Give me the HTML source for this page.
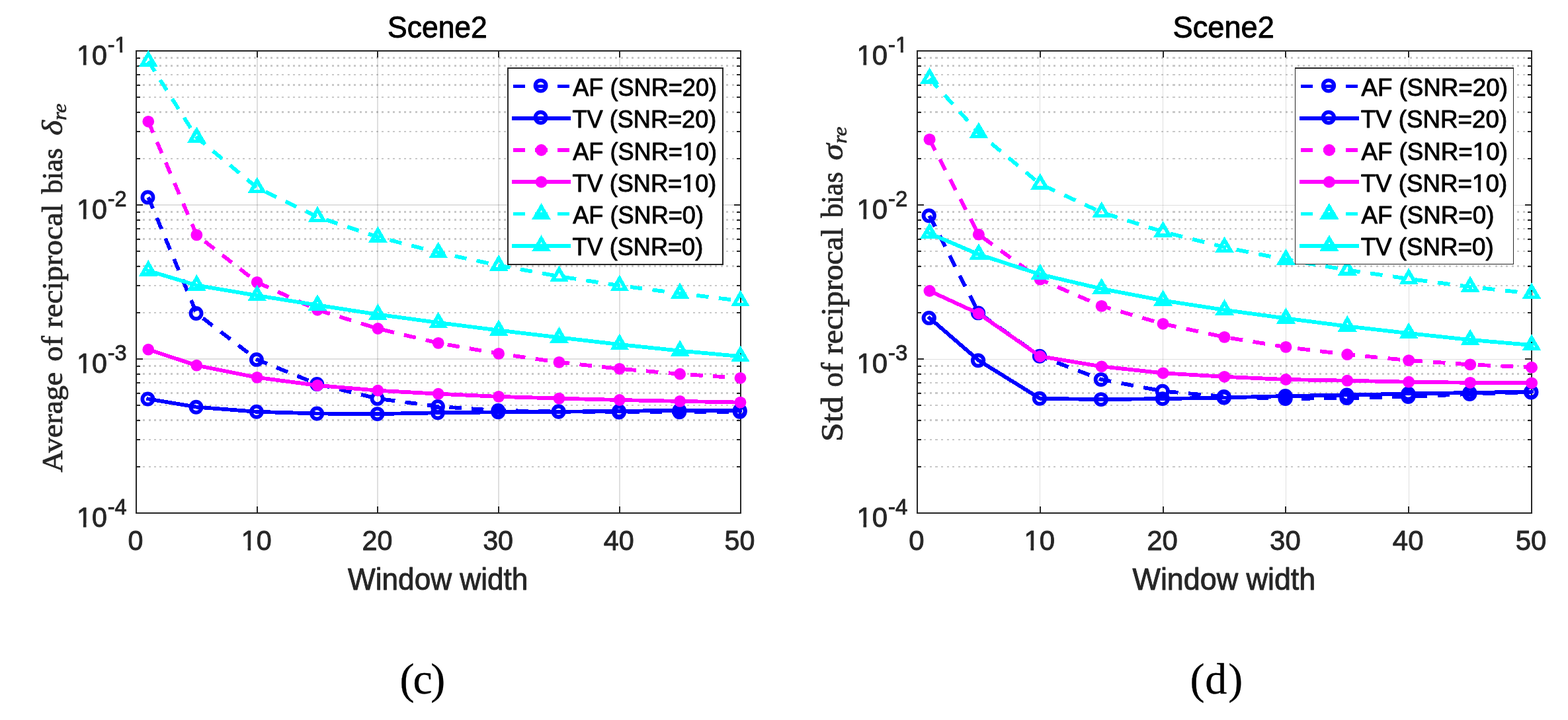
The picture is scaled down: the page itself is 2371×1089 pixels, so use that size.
<!DOCTYPE html>
<html lang="en">
<head>
<meta charset="utf-8">
<title>Scene2 reciprocal bias plots</title>
<style>
html,body{margin:0;padding:0;background:#fff;}
body{width:2371px;height:1089px;overflow:hidden;}
svg{display:block;}
</style>
</head>
<body>
<svg width="2371" height="1089" viewBox="0 0 2371 1089">
<rect width="2371" height="1089" fill="#fff"/>
<g id="plot-c">
<g stroke="#262626" stroke-opacity="0.25" stroke-width="2.6" stroke-dasharray="3 5 3 6 3 5 3 5 3 6" shape-rendering="crispEdges">
<line x1="208" y1="239.86" x2="1119.5" y2="239.86"/>
<line x1="208" y1="198.83" x2="1119.5" y2="198.83"/>
<line x1="208" y1="169.72" x2="1119.5" y2="169.72"/>
<line x1="208" y1="147.14" x2="1119.5" y2="147.14"/>
<line x1="208" y1="128.69" x2="1119.5" y2="128.69"/>
<line x1="208" y1="113.09" x2="1119.5" y2="113.09"/>
<line x1="208" y1="99.58" x2="1119.5" y2="99.58"/>
<line x1="208" y1="87.66" x2="1119.5" y2="87.66"/>
<line x1="208" y1="472.86" x2="1119.5" y2="472.86"/>
<line x1="208" y1="431.83" x2="1119.5" y2="431.83"/>
<line x1="208" y1="402.72" x2="1119.5" y2="402.72"/>
<line x1="208" y1="380.14" x2="1119.5" y2="380.14"/>
<line x1="208" y1="361.69" x2="1119.5" y2="361.69"/>
<line x1="208" y1="346.09" x2="1119.5" y2="346.09"/>
<line x1="208" y1="332.58" x2="1119.5" y2="332.58"/>
<line x1="208" y1="320.66" x2="1119.5" y2="320.66"/>
<line x1="208" y1="705.86" x2="1119.5" y2="705.86"/>
<line x1="208" y1="664.83" x2="1119.5" y2="664.83"/>
<line x1="208" y1="635.72" x2="1119.5" y2="635.72"/>
<line x1="208" y1="613.14" x2="1119.5" y2="613.14"/>
<line x1="208" y1="594.69" x2="1119.5" y2="594.69"/>
<line x1="208" y1="579.09" x2="1119.5" y2="579.09"/>
<line x1="208" y1="565.58" x2="1119.5" y2="565.58"/>
<line x1="208" y1="553.66" x2="1119.5" y2="553.66"/>
</g>
<g stroke="#262626" stroke-opacity="0.15" stroke-width="2.0" shape-rendering="crispEdges">
<line x1="388.7" y1="77" x2="388.7" y2="776"/>
<line x1="571.4" y1="77" x2="571.4" y2="776"/>
<line x1="754.1" y1="77" x2="754.1" y2="776"/>
<line x1="936.8" y1="77" x2="936.8" y2="776"/>
<line x1="206" y1="310" x2="1119.5" y2="310"/>
<line x1="206" y1="543" x2="1119.5" y2="543"/>
</g>
<g stroke="#262626" stroke-width="2" fill="none" shape-rendering="crispEdges">
<rect x="206" y="77" width="913.5" height="699"/>
<line x1="388.7" y1="776" x2="388.7" y2="766"/>
<line x1="388.7" y1="77" x2="388.7" y2="87"/>
<line x1="571.4" y1="776" x2="571.4" y2="766"/>
<line x1="571.4" y1="77" x2="571.4" y2="87"/>
<line x1="754.1" y1="776" x2="754.1" y2="766"/>
<line x1="754.1" y1="77" x2="754.1" y2="87"/>
<line x1="936.8" y1="776" x2="936.8" y2="766"/>
<line x1="936.8" y1="77" x2="936.8" y2="87"/>
<line x1="206" y1="310" x2="216" y2="310"/>
<line x1="1119.5" y1="310" x2="1109.5" y2="310"/>
<line x1="206" y1="543" x2="216" y2="543"/>
<line x1="1119.5" y1="543" x2="1109.5" y2="543"/>
<line x1="206" y1="239.86" x2="212" y2="239.86"/>
<line x1="1119.5" y1="239.86" x2="1113.5" y2="239.86"/>
<line x1="206" y1="198.83" x2="212" y2="198.83"/>
<line x1="1119.5" y1="198.83" x2="1113.5" y2="198.83"/>
<line x1="206" y1="169.72" x2="212" y2="169.72"/>
<line x1="1119.5" y1="169.72" x2="1113.5" y2="169.72"/>
<line x1="206" y1="147.14" x2="212" y2="147.14"/>
<line x1="1119.5" y1="147.14" x2="1113.5" y2="147.14"/>
<line x1="206" y1="128.69" x2="212" y2="128.69"/>
<line x1="1119.5" y1="128.69" x2="1113.5" y2="128.69"/>
<line x1="206" y1="113.09" x2="212" y2="113.09"/>
<line x1="1119.5" y1="113.09" x2="1113.5" y2="113.09"/>
<line x1="206" y1="99.58" x2="212" y2="99.58"/>
<line x1="1119.5" y1="99.58" x2="1113.5" y2="99.58"/>
<line x1="206" y1="87.66" x2="212" y2="87.66"/>
<line x1="1119.5" y1="87.66" x2="1113.5" y2="87.66"/>
<line x1="206" y1="472.86" x2="212" y2="472.86"/>
<line x1="1119.5" y1="472.86" x2="1113.5" y2="472.86"/>
<line x1="206" y1="431.83" x2="212" y2="431.83"/>
<line x1="1119.5" y1="431.83" x2="1113.5" y2="431.83"/>
<line x1="206" y1="402.72" x2="212" y2="402.72"/>
<line x1="1119.5" y1="402.72" x2="1113.5" y2="402.72"/>
<line x1="206" y1="380.14" x2="212" y2="380.14"/>
<line x1="1119.5" y1="380.14" x2="1113.5" y2="380.14"/>
<line x1="206" y1="361.69" x2="212" y2="361.69"/>
<line x1="1119.5" y1="361.69" x2="1113.5" y2="361.69"/>
<line x1="206" y1="346.09" x2="212" y2="346.09"/>
<line x1="1119.5" y1="346.09" x2="1113.5" y2="346.09"/>
<line x1="206" y1="332.58" x2="212" y2="332.58"/>
<line x1="1119.5" y1="332.58" x2="1113.5" y2="332.58"/>
<line x1="206" y1="320.66" x2="212" y2="320.66"/>
<line x1="1119.5" y1="320.66" x2="1113.5" y2="320.66"/>
<line x1="206" y1="705.86" x2="212" y2="705.86"/>
<line x1="1119.5" y1="705.86" x2="1113.5" y2="705.86"/>
<line x1="206" y1="664.83" x2="212" y2="664.83"/>
<line x1="1119.5" y1="664.83" x2="1113.5" y2="664.83"/>
<line x1="206" y1="635.72" x2="212" y2="635.72"/>
<line x1="1119.5" y1="635.72" x2="1113.5" y2="635.72"/>
<line x1="206" y1="613.14" x2="212" y2="613.14"/>
<line x1="1119.5" y1="613.14" x2="1113.5" y2="613.14"/>
<line x1="206" y1="594.69" x2="212" y2="594.69"/>
<line x1="1119.5" y1="594.69" x2="1113.5" y2="594.69"/>
<line x1="206" y1="579.09" x2="212" y2="579.09"/>
<line x1="1119.5" y1="579.09" x2="1113.5" y2="579.09"/>
<line x1="206" y1="565.58" x2="212" y2="565.58"/>
<line x1="1119.5" y1="565.58" x2="1113.5" y2="565.58"/>
<line x1="206" y1="553.66" x2="212" y2="553.66"/>
<line x1="1119.5" y1="553.66" x2="1113.5" y2="553.66"/>
</g>
<g fill="none" shape-rendering="crispEdges">
<polyline points="224.27,298.4 297.35,474 388.7,543.9 480.05,581 571.4,602.9 662.75,614.9 754.1,621 845.45,622.3 936.8,623.5 1028.15,623.3 1119.5,622.8" stroke="#0000ff" stroke-width="5.8" stroke-linejoin="round" stroke-dasharray="18.4 15.3"/>
<circle cx="223.47" cy="298.4" r="8.1" fill="none" stroke="#0000ff" stroke-width="5.7" shape-rendering="geometricPrecision"/>
<circle cx="296.55" cy="474" r="8.1" fill="none" stroke="#0000ff" stroke-width="5.7" shape-rendering="geometricPrecision"/>
<circle cx="387.9" cy="543.9" r="8.1" fill="none" stroke="#0000ff" stroke-width="5.7" shape-rendering="geometricPrecision"/>
<circle cx="479.25" cy="581" r="8.1" fill="none" stroke="#0000ff" stroke-width="5.7" shape-rendering="geometricPrecision"/>
<circle cx="570.6" cy="602.9" r="8.1" fill="none" stroke="#0000ff" stroke-width="5.7" shape-rendering="geometricPrecision"/>
<circle cx="661.95" cy="614.9" r="8.1" fill="none" stroke="#0000ff" stroke-width="5.7" shape-rendering="geometricPrecision"/>
<circle cx="753.3" cy="621" r="8.1" fill="none" stroke="#0000ff" stroke-width="5.7" shape-rendering="geometricPrecision"/>
<circle cx="844.65" cy="622.3" r="8.1" fill="none" stroke="#0000ff" stroke-width="5.7" shape-rendering="geometricPrecision"/>
<circle cx="936" cy="623.5" r="8.1" fill="none" stroke="#0000ff" stroke-width="5.7" shape-rendering="geometricPrecision"/>
<circle cx="1027.35" cy="623.3" r="8.1" fill="none" stroke="#0000ff" stroke-width="5.7" shape-rendering="geometricPrecision"/>
<circle cx="1118.7" cy="622.8" r="8.1" fill="none" stroke="#0000ff" stroke-width="5.7" shape-rendering="geometricPrecision"/>
<polyline points="224.27,603.5 297.35,615.7 388.7,622.8 480.05,625.5 571.4,626.1 662.75,624.3 754.1,623.3 845.45,622.8 936.8,621.8 1028.15,620.8 1119.5,620.8" stroke="#0000ff" stroke-width="5.8" stroke-linejoin="round" stroke-linecap="square"/>
<circle cx="223.47" cy="603.5" r="8.1" fill="none" stroke="#0000ff" stroke-width="5.7" shape-rendering="geometricPrecision"/>
<circle cx="296.55" cy="615.7" r="8.1" fill="none" stroke="#0000ff" stroke-width="5.7" shape-rendering="geometricPrecision"/>
<circle cx="387.9" cy="622.8" r="8.1" fill="none" stroke="#0000ff" stroke-width="5.7" shape-rendering="geometricPrecision"/>
<circle cx="479.25" cy="625.5" r="8.1" fill="none" stroke="#0000ff" stroke-width="5.7" shape-rendering="geometricPrecision"/>
<circle cx="570.6" cy="626.1" r="8.1" fill="none" stroke="#0000ff" stroke-width="5.7" shape-rendering="geometricPrecision"/>
<circle cx="661.95" cy="624.3" r="8.1" fill="none" stroke="#0000ff" stroke-width="5.7" shape-rendering="geometricPrecision"/>
<circle cx="753.3" cy="623.3" r="8.1" fill="none" stroke="#0000ff" stroke-width="5.7" shape-rendering="geometricPrecision"/>
<circle cx="844.65" cy="622.8" r="8.1" fill="none" stroke="#0000ff" stroke-width="5.7" shape-rendering="geometricPrecision"/>
<circle cx="936" cy="621.8" r="8.1" fill="none" stroke="#0000ff" stroke-width="5.7" shape-rendering="geometricPrecision"/>
<circle cx="1027.35" cy="620.8" r="8.1" fill="none" stroke="#0000ff" stroke-width="5.7" shape-rendering="geometricPrecision"/>
<circle cx="1118.7" cy="620.8" r="8.1" fill="none" stroke="#0000ff" stroke-width="5.7" shape-rendering="geometricPrecision"/>
<polyline points="224.27,183.8 297.35,355.4 388.7,426.9 480.05,468.8 571.4,497 662.75,518.9 754.1,534.9 845.45,547.9 936.8,557.8 1028.15,565.7 1119.5,571.8" stroke="#ff00ff" stroke-width="5.8" stroke-linejoin="round" stroke-dasharray="18.4 15.3"/>
<circle cx="224.27" cy="183.8" r="8.9" fill="#ff00ff" shape-rendering="geometricPrecision"/>
<circle cx="297.35" cy="355.4" r="8.9" fill="#ff00ff" shape-rendering="geometricPrecision"/>
<circle cx="388.7" cy="426.9" r="8.9" fill="#ff00ff" shape-rendering="geometricPrecision"/>
<circle cx="480.05" cy="468.8" r="8.9" fill="#ff00ff" shape-rendering="geometricPrecision"/>
<circle cx="571.4" cy="497" r="8.9" fill="#ff00ff" shape-rendering="geometricPrecision"/>
<circle cx="662.75" cy="518.9" r="8.9" fill="#ff00ff" shape-rendering="geometricPrecision"/>
<circle cx="754.1" cy="534.9" r="8.9" fill="#ff00ff" shape-rendering="geometricPrecision"/>
<circle cx="845.45" cy="547.9" r="8.9" fill="#ff00ff" shape-rendering="geometricPrecision"/>
<circle cx="936.8" cy="557.8" r="8.9" fill="#ff00ff" shape-rendering="geometricPrecision"/>
<circle cx="1028.15" cy="565.7" r="8.9" fill="#ff00ff" shape-rendering="geometricPrecision"/>
<circle cx="1119.5" cy="571.8" r="8.9" fill="#ff00ff" shape-rendering="geometricPrecision"/>
<polyline points="224.27,528.7 297.35,552.7 388.7,570.9 480.05,582.9 571.4,590.7 662.75,595.7 754.1,599.9 845.45,602.6 936.8,605 1028.15,606.9 1119.5,608.6" stroke="#ff00ff" stroke-width="5.8" stroke-linejoin="round" stroke-linecap="square"/>
<circle cx="224.27" cy="528.7" r="8.9" fill="#ff00ff" shape-rendering="geometricPrecision"/>
<circle cx="297.35" cy="552.7" r="8.9" fill="#ff00ff" shape-rendering="geometricPrecision"/>
<circle cx="388.7" cy="570.9" r="8.9" fill="#ff00ff" shape-rendering="geometricPrecision"/>
<circle cx="480.05" cy="582.9" r="8.9" fill="#ff00ff" shape-rendering="geometricPrecision"/>
<circle cx="571.4" cy="590.7" r="8.9" fill="#ff00ff" shape-rendering="geometricPrecision"/>
<circle cx="662.75" cy="595.7" r="8.9" fill="#ff00ff" shape-rendering="geometricPrecision"/>
<circle cx="754.1" cy="599.9" r="8.9" fill="#ff00ff" shape-rendering="geometricPrecision"/>
<circle cx="845.45" cy="602.6" r="8.9" fill="#ff00ff" shape-rendering="geometricPrecision"/>
<circle cx="936.8" cy="605" r="8.9" fill="#ff00ff" shape-rendering="geometricPrecision"/>
<circle cx="1028.15" cy="606.9" r="8.9" fill="#ff00ff" shape-rendering="geometricPrecision"/>
<circle cx="1119.5" cy="608.6" r="8.9" fill="#ff00ff" shape-rendering="geometricPrecision"/>
<polyline points="224.27,92.5 297.35,207.9 388.7,284 480.05,328 571.4,358.5 662.75,382 754.1,401.5 845.45,418 936.8,432 1028.15,443.8 1119.5,455" stroke="#00ffff" stroke-width="5.8" stroke-linejoin="round" stroke-dasharray="18.4 15.3"/>
<polygon points="224.27,81.5 233.8,98 214.74,98" fill="none" stroke="#00ffff" stroke-width="5.5" stroke-linejoin="miter" stroke-miterlimit="10"/>
<polygon points="297.35,196.9 306.88,213.4 287.82,213.4" fill="none" stroke="#00ffff" stroke-width="5.5" stroke-linejoin="miter" stroke-miterlimit="10"/>
<polygon points="388.7,273 398.23,289.5 379.17,289.5" fill="none" stroke="#00ffff" stroke-width="5.5" stroke-linejoin="miter" stroke-miterlimit="10"/>
<polygon points="480.05,317 489.58,333.5 470.52,333.5" fill="none" stroke="#00ffff" stroke-width="5.5" stroke-linejoin="miter" stroke-miterlimit="10"/>
<polygon points="571.4,347.5 580.93,364 561.87,364" fill="none" stroke="#00ffff" stroke-width="5.5" stroke-linejoin="miter" stroke-miterlimit="10"/>
<polygon points="662.75,371 672.28,387.5 653.22,387.5" fill="none" stroke="#00ffff" stroke-width="5.5" stroke-linejoin="miter" stroke-miterlimit="10"/>
<polygon points="754.1,390.5 763.63,407 744.57,407" fill="none" stroke="#00ffff" stroke-width="5.5" stroke-linejoin="miter" stroke-miterlimit="10"/>
<polygon points="845.45,407 854.98,423.5 835.92,423.5" fill="none" stroke="#00ffff" stroke-width="5.5" stroke-linejoin="miter" stroke-miterlimit="10"/>
<polygon points="936.8,421 946.33,437.5 927.27,437.5" fill="none" stroke="#00ffff" stroke-width="5.5" stroke-linejoin="miter" stroke-miterlimit="10"/>
<polygon points="1028.15,432.8 1037.68,449.3 1018.62,449.3" fill="none" stroke="#00ffff" stroke-width="5.5" stroke-linejoin="miter" stroke-miterlimit="10"/>
<polygon points="1119.5,444 1129.03,460.5 1109.97,460.5" fill="none" stroke="#00ffff" stroke-width="5.5" stroke-linejoin="miter" stroke-miterlimit="10"/>
<polyline points="224.27,409.5 297.35,431.5 388.7,447 480.05,461.5 571.4,475.6 662.75,488 754.1,499.6 845.45,510.4 936.8,521 1028.15,530.6 1119.5,539" stroke="#00ffff" stroke-width="5.8" stroke-linejoin="round" stroke-linecap="square"/>
<polygon points="224.27,398.5 233.8,415 214.74,415" fill="none" stroke="#00ffff" stroke-width="5.5" stroke-linejoin="miter" stroke-miterlimit="10"/>
<polygon points="297.35,420.5 306.88,437 287.82,437" fill="none" stroke="#00ffff" stroke-width="5.5" stroke-linejoin="miter" stroke-miterlimit="10"/>
<polygon points="388.7,436 398.23,452.5 379.17,452.5" fill="none" stroke="#00ffff" stroke-width="5.5" stroke-linejoin="miter" stroke-miterlimit="10"/>
<polygon points="480.05,450.5 489.58,467 470.52,467" fill="none" stroke="#00ffff" stroke-width="5.5" stroke-linejoin="miter" stroke-miterlimit="10"/>
<polygon points="571.4,464.6 580.93,481.1 561.87,481.1" fill="none" stroke="#00ffff" stroke-width="5.5" stroke-linejoin="miter" stroke-miterlimit="10"/>
<polygon points="662.75,477 672.28,493.5 653.22,493.5" fill="none" stroke="#00ffff" stroke-width="5.5" stroke-linejoin="miter" stroke-miterlimit="10"/>
<polygon points="754.1,488.6 763.63,505.1 744.57,505.1" fill="none" stroke="#00ffff" stroke-width="5.5" stroke-linejoin="miter" stroke-miterlimit="10"/>
<polygon points="845.45,499.4 854.98,515.9 835.92,515.9" fill="none" stroke="#00ffff" stroke-width="5.5" stroke-linejoin="miter" stroke-miterlimit="10"/>
<polygon points="936.8,510 946.33,526.5 927.27,526.5" fill="none" stroke="#00ffff" stroke-width="5.5" stroke-linejoin="miter" stroke-miterlimit="10"/>
<polygon points="1028.15,519.6 1037.68,536.1 1018.62,536.1" fill="none" stroke="#00ffff" stroke-width="5.5" stroke-linejoin="miter" stroke-miterlimit="10"/>
<polygon points="1119.5,528 1129.03,544.5 1109.97,544.5" fill="none" stroke="#00ffff" stroke-width="5.5" stroke-linejoin="miter" stroke-miterlimit="10"/>
</g>
<rect x="768" y="103" width="324.5" height="296.7" fill="#fff" stroke="#262626" stroke-width="2.0" shape-rendering="crispEdges"/>
<g fill="none" shape-rendering="crispEdges">
<line x1="775.9" y1="130.5" x2="863.2" y2="130.5" stroke="#0000ff" stroke-width="5.8" stroke-dasharray="18.2 15.3"/>
<circle cx="817.6" cy="129.6" r="8.1" fill="none" stroke="#0000ff" stroke-width="5.7" shape-rendering="geometricPrecision"/>
<line x1="774" y1="178.7" x2="863.2" y2="178.7" stroke="#0000ff" stroke-width="5.8"/>
<circle cx="817.6" cy="177.8" r="8.1" fill="none" stroke="#0000ff" stroke-width="5.7" shape-rendering="geometricPrecision"/>
<line x1="775.9" y1="227" x2="863.2" y2="227" stroke="#ff00ff" stroke-width="5.8" stroke-dasharray="18.2 15.3"/>
<circle cx="818.5" cy="227" r="8.9" fill="#ff00ff" shape-rendering="geometricPrecision"/>
<line x1="774" y1="275.2" x2="863.2" y2="275.2" stroke="#ff00ff" stroke-width="5.8"/>
<circle cx="818.5" cy="275.2" r="8.9" fill="#ff00ff" shape-rendering="geometricPrecision"/>
<line x1="775.9" y1="323.5" x2="863.2" y2="323.5" stroke="#00ffff" stroke-width="5.8" stroke-dasharray="18.2 15.3"/>
<polygon points="818.5,312.5 828.03,329 808.97,329" fill="none" stroke="#00ffff" stroke-width="5.5" stroke-linejoin="miter" stroke-miterlimit="10"/>
<line x1="774" y1="371.7" x2="863.2" y2="371.7" stroke="#00ffff" stroke-width="5.8"/>
<polygon points="818.5,360.7 828.03,377.2 808.97,377.2" fill="none" stroke="#00ffff" stroke-width="5.5" stroke-linejoin="miter" stroke-miterlimit="10"/>
</g>
<text transform="translate(866.23 145) scale(1.0039 1.04)" font-family="'Liberation Sans', Arial, Helvetica, sans-serif" font-size="36" fill="#000" stroke="#000" stroke-width="0.9" stroke-linejoin="round">AF (SNR=20)</text>
<text transform="translate(865.49 193.2) scale(1.0039 1.04)" font-family="'Liberation Sans', Arial, Helvetica, sans-serif" font-size="36" fill="#000" stroke="#000" stroke-width="0.9" stroke-linejoin="round">TV (SNR=20)</text>
<clipPath id="k1"><path clip-rule="evenodd" d="M-600 -100H600V60H-600ZM165.32 -4.35H173.62V3.45H165.32ZM177.72 -4.35H185.33V3.45H177.72Z"/></clipPath><text transform="translate(866.23 241.5) scale(1.0039 1.04)" font-family="'Liberation Sans', Arial, Helvetica, sans-serif" font-size="36" fill="#000" stroke="#000" stroke-width="0.9" stroke-linejoin="round" clip-path="url(#k1)">AF (SNR=10)</text>
<clipPath id="k2"><path clip-rule="evenodd" d="M-600 -100H600V60H-600ZM165.32 -4.35H173.62V3.45H165.32ZM177.72 -4.35H185.33V3.45H177.72Z"/></clipPath><text transform="translate(865.49 289.7) scale(1.0039 1.04)" font-family="'Liberation Sans', Arial, Helvetica, sans-serif" font-size="36" fill="#000" stroke="#000" stroke-width="0.9" stroke-linejoin="round" clip-path="url(#k2)">TV (SNR=10)</text>
<text transform="translate(866.23 338) scale(1.0039 1.04)" font-family="'Liberation Sans', Arial, Helvetica, sans-serif" font-size="36" fill="#000" stroke="#000" stroke-width="0.9" stroke-linejoin="round">AF (SNR=0)</text>
<text transform="translate(865.49 386.2) scale(1.0039 1.04)" font-family="'Liberation Sans', Arial, Helvetica, sans-serif" font-size="36" fill="#000" stroke="#000" stroke-width="0.9" stroke-linejoin="round">TV (SNR=0)</text>
<text transform="translate(586.08 57.4) scale(1.0056 1.04)" font-family="'Liberation Sans', Arial, Helvetica, sans-serif" font-size="44.2" fill="#000" stroke="#000" stroke-width="0.9" stroke-linejoin="round">Scene2</text>
<text transform="translate(526.11 892) scale(0.9985 1.04)" font-family="'Liberation Sans', Arial, Helvetica, sans-serif" font-size="44.2" fill="#262626" stroke="#262626" stroke-width="0.9" stroke-linejoin="round">Window width</text>
<text transform="translate(205 832) scale(1.0 1.04)" font-family="'Liberation Sans', Arial, Helvetica, sans-serif" font-size="41.3" text-anchor="middle" fill="#262626" stroke="#262626" stroke-width="0.9" stroke-linejoin="round">0</text>
<clipPath id="k3"><path clip-rule="evenodd" d="M-600 -100H600V60H-600ZM-22.28 -4.75H-13.05V3.45H-22.28ZM-8.48 -4.75H0.02V3.45H-8.48Z"/></clipPath><text transform="translate(387.7 832) scale(1.0 1.04)" font-family="'Liberation Sans', Arial, Helvetica, sans-serif" font-size="41.3" text-anchor="middle" fill="#262626" stroke="#262626" stroke-width="0.9" stroke-linejoin="round" clip-path="url(#k3)">10</text>
<text transform="translate(570.4 832) scale(1.0 1.04)" font-family="'Liberation Sans', Arial, Helvetica, sans-serif" font-size="41.3" text-anchor="middle" fill="#262626" stroke="#262626" stroke-width="0.9" stroke-linejoin="round">20</text>
<text transform="translate(753.1 832) scale(1.0 1.04)" font-family="'Liberation Sans', Arial, Helvetica, sans-serif" font-size="41.3" text-anchor="middle" fill="#262626" stroke="#262626" stroke-width="0.9" stroke-linejoin="round">30</text>
<text transform="translate(935.8 832) scale(1.0 1.04)" font-family="'Liberation Sans', Arial, Helvetica, sans-serif" font-size="41.3" text-anchor="middle" fill="#262626" stroke="#262626" stroke-width="0.9" stroke-linejoin="round">40</text>
<text transform="translate(1118.5 832) scale(1.0 1.04)" font-family="'Liberation Sans', Arial, Helvetica, sans-serif" font-size="41.3" text-anchor="middle" fill="#262626" stroke="#262626" stroke-width="0.9" stroke-linejoin="round">50</text>
<clipPath id="k4"><path clip-rule="evenodd" d="M-600 -100H600V60H-600ZM-45.25 -4.75H-36.02V3.45H-45.25ZM-31.45 -4.75H-22.95V3.45H-31.45Z"/></clipPath><text transform="translate(161.91 98) scale(1.0 1.04)" font-family="'Liberation Sans', Arial, Helvetica, sans-serif" font-size="41.3" text-anchor="end" fill="#262626" stroke="#262626" stroke-width="0.9" stroke-linejoin="round" clip-path="url(#k4)">10</text>
<clipPath id="k5"><path clip-rule="evenodd" d="M-600 -100H600V60H-600ZM10.84 -4.09H18.53V3.45H10.84ZM22.32 -4.09H29.35V3.45H22.32Z"/></clipPath><text transform="translate(162.77 78.8) scale(1.0 1.04)" font-family="'Liberation Sans', Arial, Helvetica, sans-serif" font-size="32.5" text-anchor="start" fill="#262626" stroke="#262626" stroke-width="0.9" stroke-linejoin="round" clip-path="url(#k5)">-1</text>
<clipPath id="k6"><path clip-rule="evenodd" d="M-600 -100H600V60H-600ZM-45.25 -4.75H-36.02V3.45H-45.25ZM-31.45 -4.75H-22.95V3.45H-31.45Z"/></clipPath><text transform="translate(161.91 331) scale(1.0 1.04)" font-family="'Liberation Sans', Arial, Helvetica, sans-serif" font-size="41.3" text-anchor="end" fill="#262626" stroke="#262626" stroke-width="0.9" stroke-linejoin="round" clip-path="url(#k6)">10</text>
<text transform="translate(162.77 311.8) scale(1.0 1.04)" font-family="'Liberation Sans', Arial, Helvetica, sans-serif" font-size="32.5" text-anchor="start" fill="#262626" stroke="#262626" stroke-width="0.9" stroke-linejoin="round">-2</text>
<clipPath id="k7"><path clip-rule="evenodd" d="M-600 -100H600V60H-600ZM-45.25 -4.75H-36.02V3.45H-45.25ZM-31.45 -4.75H-22.95V3.45H-31.45Z"/></clipPath><text transform="translate(161.91 564) scale(1.0 1.04)" font-family="'Liberation Sans', Arial, Helvetica, sans-serif" font-size="41.3" text-anchor="end" fill="#262626" stroke="#262626" stroke-width="0.9" stroke-linejoin="round" clip-path="url(#k7)">10</text>
<text transform="translate(162.77 544.8) scale(1.0 1.04)" font-family="'Liberation Sans', Arial, Helvetica, sans-serif" font-size="32.5" text-anchor="start" fill="#262626" stroke="#262626" stroke-width="0.9" stroke-linejoin="round">-3</text>
<clipPath id="k8"><path clip-rule="evenodd" d="M-600 -100H600V60H-600ZM-45.25 -4.75H-36.02V3.45H-45.25ZM-31.45 -4.75H-22.95V3.45H-31.45Z"/></clipPath><text transform="translate(161.91 797) scale(1.0 1.04)" font-family="'Liberation Sans', Arial, Helvetica, sans-serif" font-size="41.3" text-anchor="end" fill="#262626" stroke="#262626" stroke-width="0.9" stroke-linejoin="round" clip-path="url(#k8)">10</text>
<text transform="translate(162.77 777.8) scale(1.0 1.04)" font-family="'Liberation Sans', Arial, Helvetica, sans-serif" font-size="32.5" text-anchor="start" fill="#262626" stroke="#262626" stroke-width="0.9" stroke-linejoin="round">-4</text>
<text transform="translate(93.8 0) rotate(-90) translate(-714.45 0) scale(1.0173 1.0)" font-family="'Liberation Serif', 'Times New Roman', Times, serif" font-size="45" fill="#262626" stroke="#262626" stroke-width="0.8" stroke-linejoin="round">Average</text>
<text transform="translate(93.8 0) rotate(-90) translate(-546.76 0) scale(1.0288 1.0)" font-family="'Liberation Serif', 'Times New Roman', Times, serif" font-size="45" fill="#262626" stroke="#262626" stroke-width="0.8" stroke-linejoin="round">of</text>
<text transform="translate(93.8 0) rotate(-90) translate(-495.94 0) scale(1.0429 1.0)" font-family="'Liberation Serif', 'Times New Roman', Times, serif" font-size="45" fill="#262626" stroke="#262626" stroke-width="0.8" stroke-linejoin="round">reciprocal</text>
<text transform="translate(93.8 0) rotate(-90) translate(-293.1 0) scale(0.9540 1.0)" font-family="'Liberation Serif', 'Times New Roman', Times, serif" font-size="45" fill="#262626" stroke="#262626" stroke-width="0.8" stroke-linejoin="round">bias</text>
<text transform="translate(93.8 0) rotate(-90) translate(-204.94 0) scale(1.0944 1.0)" font-family="'Liberation Serif', 'Times New Roman', Times, serif" font-size="45" font-style="italic" fill="#262626" stroke="#262626" stroke-width="0.8" stroke-linejoin="round">δ</text>
<text transform="translate(93.8 0) rotate(-90) translate(-181.89 6) scale(1.1016 1.0)" font-family="'Liberation Serif', 'Times New Roman', Times, serif" font-size="29" font-style="italic" fill="#262626" stroke="#262626" stroke-width="0.7" stroke-linejoin="round">re</text>
</g>
<g id="plot-d" transform="matrix(1.01697 0 0 1 1177.505 0)">
<g stroke="#262626" stroke-opacity="0.25" stroke-width="2.6" stroke-dasharray="3 5 3 6 3 5 3 5 3 6" shape-rendering="crispEdges">
<line x1="208" y1="239.86" x2="1119.5" y2="239.86"/>
<line x1="208" y1="198.83" x2="1119.5" y2="198.83"/>
<line x1="208" y1="169.72" x2="1119.5" y2="169.72"/>
<line x1="208" y1="147.14" x2="1119.5" y2="147.14"/>
<line x1="208" y1="128.69" x2="1119.5" y2="128.69"/>
<line x1="208" y1="113.09" x2="1119.5" y2="113.09"/>
<line x1="208" y1="99.58" x2="1119.5" y2="99.58"/>
<line x1="208" y1="87.66" x2="1119.5" y2="87.66"/>
<line x1="208" y1="472.86" x2="1119.5" y2="472.86"/>
<line x1="208" y1="431.83" x2="1119.5" y2="431.83"/>
<line x1="208" y1="402.72" x2="1119.5" y2="402.72"/>
<line x1="208" y1="380.14" x2="1119.5" y2="380.14"/>
<line x1="208" y1="361.69" x2="1119.5" y2="361.69"/>
<line x1="208" y1="346.09" x2="1119.5" y2="346.09"/>
<line x1="208" y1="332.58" x2="1119.5" y2="332.58"/>
<line x1="208" y1="320.66" x2="1119.5" y2="320.66"/>
<line x1="208" y1="705.86" x2="1119.5" y2="705.86"/>
<line x1="208" y1="664.83" x2="1119.5" y2="664.83"/>
<line x1="208" y1="635.72" x2="1119.5" y2="635.72"/>
<line x1="208" y1="613.14" x2="1119.5" y2="613.14"/>
<line x1="208" y1="594.69" x2="1119.5" y2="594.69"/>
<line x1="208" y1="579.09" x2="1119.5" y2="579.09"/>
<line x1="208" y1="565.58" x2="1119.5" y2="565.58"/>
<line x1="208" y1="553.66" x2="1119.5" y2="553.66"/>
</g>
<g stroke="#262626" stroke-opacity="0.15" stroke-width="1.0" shape-rendering="crispEdges">
<line x1="388.7" y1="77" x2="388.7" y2="776"/>
<line x1="571.4" y1="77" x2="571.4" y2="776"/>
<line x1="754.1" y1="77" x2="754.1" y2="776"/>
<line x1="936.8" y1="77" x2="936.8" y2="776"/>
<line x1="206" y1="310" x2="1119.5" y2="310"/>
<line x1="206" y1="543" x2="1119.5" y2="543"/>
</g>
<g stroke="#262626" stroke-width="2" fill="none" shape-rendering="crispEdges">
<rect x="206" y="77" width="913.5" height="699"/>
<line x1="388.7" y1="776" x2="388.7" y2="766"/>
<line x1="388.7" y1="77" x2="388.7" y2="87"/>
<line x1="571.4" y1="776" x2="571.4" y2="766"/>
<line x1="571.4" y1="77" x2="571.4" y2="87"/>
<line x1="754.1" y1="776" x2="754.1" y2="766"/>
<line x1="754.1" y1="77" x2="754.1" y2="87"/>
<line x1="936.8" y1="776" x2="936.8" y2="766"/>
<line x1="936.8" y1="77" x2="936.8" y2="87"/>
<line x1="206" y1="310" x2="216" y2="310"/>
<line x1="1119.5" y1="310" x2="1109.5" y2="310"/>
<line x1="206" y1="543" x2="216" y2="543"/>
<line x1="1119.5" y1="543" x2="1109.5" y2="543"/>
<line x1="206" y1="239.86" x2="212" y2="239.86"/>
<line x1="1119.5" y1="239.86" x2="1113.5" y2="239.86"/>
<line x1="206" y1="198.83" x2="212" y2="198.83"/>
<line x1="1119.5" y1="198.83" x2="1113.5" y2="198.83"/>
<line x1="206" y1="169.72" x2="212" y2="169.72"/>
<line x1="1119.5" y1="169.72" x2="1113.5" y2="169.72"/>
<line x1="206" y1="147.14" x2="212" y2="147.14"/>
<line x1="1119.5" y1="147.14" x2="1113.5" y2="147.14"/>
<line x1="206" y1="128.69" x2="212" y2="128.69"/>
<line x1="1119.5" y1="128.69" x2="1113.5" y2="128.69"/>
<line x1="206" y1="113.09" x2="212" y2="113.09"/>
<line x1="1119.5" y1="113.09" x2="1113.5" y2="113.09"/>
<line x1="206" y1="99.58" x2="212" y2="99.58"/>
<line x1="1119.5" y1="99.58" x2="1113.5" y2="99.58"/>
<line x1="206" y1="87.66" x2="212" y2="87.66"/>
<line x1="1119.5" y1="87.66" x2="1113.5" y2="87.66"/>
<line x1="206" y1="472.86" x2="212" y2="472.86"/>
<line x1="1119.5" y1="472.86" x2="1113.5" y2="472.86"/>
<line x1="206" y1="431.83" x2="212" y2="431.83"/>
<line x1="1119.5" y1="431.83" x2="1113.5" y2="431.83"/>
<line x1="206" y1="402.72" x2="212" y2="402.72"/>
<line x1="1119.5" y1="402.72" x2="1113.5" y2="402.72"/>
<line x1="206" y1="380.14" x2="212" y2="380.14"/>
<line x1="1119.5" y1="380.14" x2="1113.5" y2="380.14"/>
<line x1="206" y1="361.69" x2="212" y2="361.69"/>
<line x1="1119.5" y1="361.69" x2="1113.5" y2="361.69"/>
<line x1="206" y1="346.09" x2="212" y2="346.09"/>
<line x1="1119.5" y1="346.09" x2="1113.5" y2="346.09"/>
<line x1="206" y1="332.58" x2="212" y2="332.58"/>
<line x1="1119.5" y1="332.58" x2="1113.5" y2="332.58"/>
<line x1="206" y1="320.66" x2="212" y2="320.66"/>
<line x1="1119.5" y1="320.66" x2="1113.5" y2="320.66"/>
<line x1="206" y1="705.86" x2="212" y2="705.86"/>
<line x1="1119.5" y1="705.86" x2="1113.5" y2="705.86"/>
<line x1="206" y1="664.83" x2="212" y2="664.83"/>
<line x1="1119.5" y1="664.83" x2="1113.5" y2="664.83"/>
<line x1="206" y1="635.72" x2="212" y2="635.72"/>
<line x1="1119.5" y1="635.72" x2="1113.5" y2="635.72"/>
<line x1="206" y1="613.14" x2="212" y2="613.14"/>
<line x1="1119.5" y1="613.14" x2="1113.5" y2="613.14"/>
<line x1="206" y1="594.69" x2="212" y2="594.69"/>
<line x1="1119.5" y1="594.69" x2="1113.5" y2="594.69"/>
<line x1="206" y1="579.09" x2="212" y2="579.09"/>
<line x1="1119.5" y1="579.09" x2="1113.5" y2="579.09"/>
<line x1="206" y1="565.58" x2="212" y2="565.58"/>
<line x1="1119.5" y1="565.58" x2="1113.5" y2="565.58"/>
<line x1="206" y1="553.66" x2="212" y2="553.66"/>
<line x1="1119.5" y1="553.66" x2="1113.5" y2="553.66"/>
</g>
<g fill="none" shape-rendering="crispEdges">
<polyline points="224.27,326.3 297.35,473.4 388.7,538.8 480.05,574.1 571.4,591.7 662.75,600 754.1,603 845.45,602 936.8,600 1028.15,596 1119.5,593.5" stroke="#0000ff" stroke-width="5.8" stroke-linejoin="round" stroke-dasharray="18.4 15.3"/>
<circle cx="223.47" cy="326.3" r="8.1" fill="none" stroke="#0000ff" stroke-width="5.7" shape-rendering="geometricPrecision"/>
<circle cx="296.55" cy="473.4" r="8.1" fill="none" stroke="#0000ff" stroke-width="5.7" shape-rendering="geometricPrecision"/>
<circle cx="387.9" cy="538.8" r="8.1" fill="none" stroke="#0000ff" stroke-width="5.7" shape-rendering="geometricPrecision"/>
<circle cx="479.25" cy="574.1" r="8.1" fill="none" stroke="#0000ff" stroke-width="5.7" shape-rendering="geometricPrecision"/>
<circle cx="570.6" cy="591.7" r="8.1" fill="none" stroke="#0000ff" stroke-width="5.7" shape-rendering="geometricPrecision"/>
<circle cx="661.95" cy="600" r="8.1" fill="none" stroke="#0000ff" stroke-width="5.7" shape-rendering="geometricPrecision"/>
<circle cx="753.3" cy="603" r="8.1" fill="none" stroke="#0000ff" stroke-width="5.7" shape-rendering="geometricPrecision"/>
<circle cx="844.65" cy="602" r="8.1" fill="none" stroke="#0000ff" stroke-width="5.7" shape-rendering="geometricPrecision"/>
<circle cx="936" cy="600" r="8.1" fill="none" stroke="#0000ff" stroke-width="5.7" shape-rendering="geometricPrecision"/>
<circle cx="1027.35" cy="596" r="8.1" fill="none" stroke="#0000ff" stroke-width="5.7" shape-rendering="geometricPrecision"/>
<circle cx="1118.7" cy="593.5" r="8.1" fill="none" stroke="#0000ff" stroke-width="5.7" shape-rendering="geometricPrecision"/>
<polyline points="224.27,480.9 297.35,545.2 388.7,602.8 480.05,604.1 571.4,603.1 662.75,601.5 754.1,599 845.45,597.5 936.8,595.5 1028.15,594 1119.5,592.5" stroke="#0000ff" stroke-width="5.8" stroke-linejoin="round" stroke-linecap="square"/>
<circle cx="223.47" cy="480.9" r="8.1" fill="none" stroke="#0000ff" stroke-width="5.7" shape-rendering="geometricPrecision"/>
<circle cx="296.55" cy="545.2" r="8.1" fill="none" stroke="#0000ff" stroke-width="5.7" shape-rendering="geometricPrecision"/>
<circle cx="387.9" cy="602.8" r="8.1" fill="none" stroke="#0000ff" stroke-width="5.7" shape-rendering="geometricPrecision"/>
<circle cx="479.25" cy="604.1" r="8.1" fill="none" stroke="#0000ff" stroke-width="5.7" shape-rendering="geometricPrecision"/>
<circle cx="570.6" cy="603.1" r="8.1" fill="none" stroke="#0000ff" stroke-width="5.7" shape-rendering="geometricPrecision"/>
<circle cx="661.95" cy="601.5" r="8.1" fill="none" stroke="#0000ff" stroke-width="5.7" shape-rendering="geometricPrecision"/>
<circle cx="753.3" cy="599" r="8.1" fill="none" stroke="#0000ff" stroke-width="5.7" shape-rendering="geometricPrecision"/>
<circle cx="844.65" cy="597.5" r="8.1" fill="none" stroke="#0000ff" stroke-width="5.7" shape-rendering="geometricPrecision"/>
<circle cx="936" cy="595.5" r="8.1" fill="none" stroke="#0000ff" stroke-width="5.7" shape-rendering="geometricPrecision"/>
<circle cx="1027.35" cy="594" r="8.1" fill="none" stroke="#0000ff" stroke-width="5.7" shape-rendering="geometricPrecision"/>
<circle cx="1118.7" cy="592.5" r="8.1" fill="none" stroke="#0000ff" stroke-width="5.7" shape-rendering="geometricPrecision"/>
<polyline points="224.27,210.9 297.35,354.7 388.7,422.6 480.05,462.9 571.4,489.8 662.75,509.9 754.1,524.9 845.45,536.2 936.8,545.1 1028.15,551.4 1119.5,555.7" stroke="#ff00ff" stroke-width="5.8" stroke-linejoin="round" stroke-dasharray="18.4 15.3"/>
<circle cx="224.27" cy="210.9" r="8.9" fill="#ff00ff" shape-rendering="geometricPrecision"/>
<circle cx="297.35" cy="354.7" r="8.9" fill="#ff00ff" shape-rendering="geometricPrecision"/>
<circle cx="388.7" cy="422.6" r="8.9" fill="#ff00ff" shape-rendering="geometricPrecision"/>
<circle cx="480.05" cy="462.9" r="8.9" fill="#ff00ff" shape-rendering="geometricPrecision"/>
<circle cx="571.4" cy="489.8" r="8.9" fill="#ff00ff" shape-rendering="geometricPrecision"/>
<circle cx="662.75" cy="509.9" r="8.9" fill="#ff00ff" shape-rendering="geometricPrecision"/>
<circle cx="754.1" cy="524.9" r="8.9" fill="#ff00ff" shape-rendering="geometricPrecision"/>
<circle cx="845.45" cy="536.2" r="8.9" fill="#ff00ff" shape-rendering="geometricPrecision"/>
<circle cx="936.8" cy="545.1" r="8.9" fill="#ff00ff" shape-rendering="geometricPrecision"/>
<circle cx="1028.15" cy="551.4" r="8.9" fill="#ff00ff" shape-rendering="geometricPrecision"/>
<circle cx="1119.5" cy="555.7" r="8.9" fill="#ff00ff" shape-rendering="geometricPrecision"/>
<polyline points="224.27,440 297.35,474.3 388.7,539 480.05,554.3 571.4,564.3 662.75,569.8 754.1,574 845.45,575.7 936.8,577.7 1028.15,578.8 1119.5,579.3" stroke="#ff00ff" stroke-width="5.8" stroke-linejoin="round" stroke-linecap="square"/>
<circle cx="224.27" cy="440" r="8.9" fill="#ff00ff" shape-rendering="geometricPrecision"/>
<circle cx="297.35" cy="474.3" r="8.9" fill="#ff00ff" shape-rendering="geometricPrecision"/>
<circle cx="388.7" cy="539" r="8.9" fill="#ff00ff" shape-rendering="geometricPrecision"/>
<circle cx="480.05" cy="554.3" r="8.9" fill="#ff00ff" shape-rendering="geometricPrecision"/>
<circle cx="571.4" cy="564.3" r="8.9" fill="#ff00ff" shape-rendering="geometricPrecision"/>
<circle cx="662.75" cy="569.8" r="8.9" fill="#ff00ff" shape-rendering="geometricPrecision"/>
<circle cx="754.1" cy="574" r="8.9" fill="#ff00ff" shape-rendering="geometricPrecision"/>
<circle cx="845.45" cy="575.7" r="8.9" fill="#ff00ff" shape-rendering="geometricPrecision"/>
<circle cx="936.8" cy="577.7" r="8.9" fill="#ff00ff" shape-rendering="geometricPrecision"/>
<circle cx="1028.15" cy="578.8" r="8.9" fill="#ff00ff" shape-rendering="geometricPrecision"/>
<circle cx="1119.5" cy="579.3" r="8.9" fill="#ff00ff" shape-rendering="geometricPrecision"/>
<polyline points="224.27,118.6 297.35,201 388.7,278.4 480.05,321.2 571.4,350.6 662.75,374 754.1,392.6 845.45,408.4 936.8,421.8 1028.15,433.8 1119.5,443.9" stroke="#00ffff" stroke-width="5.8" stroke-linejoin="round" stroke-dasharray="18.4 15.3"/>
<polygon points="224.27,107.6 233.8,124.1 214.74,124.1" fill="none" stroke="#00ffff" stroke-width="5.5" stroke-linejoin="miter" stroke-miterlimit="10"/>
<polygon points="297.35,190 306.88,206.5 287.82,206.5" fill="none" stroke="#00ffff" stroke-width="5.5" stroke-linejoin="miter" stroke-miterlimit="10"/>
<polygon points="388.7,267.4 398.23,283.9 379.17,283.9" fill="none" stroke="#00ffff" stroke-width="5.5" stroke-linejoin="miter" stroke-miterlimit="10"/>
<polygon points="480.05,310.2 489.58,326.7 470.52,326.7" fill="none" stroke="#00ffff" stroke-width="5.5" stroke-linejoin="miter" stroke-miterlimit="10"/>
<polygon points="571.4,339.6 580.93,356.1 561.87,356.1" fill="none" stroke="#00ffff" stroke-width="5.5" stroke-linejoin="miter" stroke-miterlimit="10"/>
<polygon points="662.75,363 672.28,379.5 653.22,379.5" fill="none" stroke="#00ffff" stroke-width="5.5" stroke-linejoin="miter" stroke-miterlimit="10"/>
<polygon points="754.1,381.6 763.63,398.1 744.57,398.1" fill="none" stroke="#00ffff" stroke-width="5.5" stroke-linejoin="miter" stroke-miterlimit="10"/>
<polygon points="845.45,397.4 854.98,413.9 835.92,413.9" fill="none" stroke="#00ffff" stroke-width="5.5" stroke-linejoin="miter" stroke-miterlimit="10"/>
<polygon points="936.8,410.8 946.33,427.3 927.27,427.3" fill="none" stroke="#00ffff" stroke-width="5.5" stroke-linejoin="miter" stroke-miterlimit="10"/>
<polygon points="1028.15,422.8 1037.68,439.3 1018.62,439.3" fill="none" stroke="#00ffff" stroke-width="5.5" stroke-linejoin="miter" stroke-miterlimit="10"/>
<polygon points="1119.5,432.9 1129.03,449.4 1109.97,449.4" fill="none" stroke="#00ffff" stroke-width="5.5" stroke-linejoin="miter" stroke-miterlimit="10"/>
<polyline points="224.27,353 297.35,384.8 388.7,415 480.05,436.8 571.4,454.5 662.75,468.8 754.1,481.5 845.45,493.5 936.8,504.1 1028.15,514 1119.5,522" stroke="#00ffff" stroke-width="5.8" stroke-linejoin="round" stroke-linecap="square"/>
<polygon points="224.27,342 233.8,358.5 214.74,358.5" fill="none" stroke="#00ffff" stroke-width="5.5" stroke-linejoin="miter" stroke-miterlimit="10"/>
<polygon points="297.35,373.8 306.88,390.3 287.82,390.3" fill="none" stroke="#00ffff" stroke-width="5.5" stroke-linejoin="miter" stroke-miterlimit="10"/>
<polygon points="388.7,404 398.23,420.5 379.17,420.5" fill="none" stroke="#00ffff" stroke-width="5.5" stroke-linejoin="miter" stroke-miterlimit="10"/>
<polygon points="480.05,425.8 489.58,442.3 470.52,442.3" fill="none" stroke="#00ffff" stroke-width="5.5" stroke-linejoin="miter" stroke-miterlimit="10"/>
<polygon points="571.4,443.5 580.93,460 561.87,460" fill="none" stroke="#00ffff" stroke-width="5.5" stroke-linejoin="miter" stroke-miterlimit="10"/>
<polygon points="662.75,457.8 672.28,474.3 653.22,474.3" fill="none" stroke="#00ffff" stroke-width="5.5" stroke-linejoin="miter" stroke-miterlimit="10"/>
<polygon points="754.1,470.5 763.63,487 744.57,487" fill="none" stroke="#00ffff" stroke-width="5.5" stroke-linejoin="miter" stroke-miterlimit="10"/>
<polygon points="845.45,482.5 854.98,499 835.92,499" fill="none" stroke="#00ffff" stroke-width="5.5" stroke-linejoin="miter" stroke-miterlimit="10"/>
<polygon points="936.8,493.1 946.33,509.6 927.27,509.6" fill="none" stroke="#00ffff" stroke-width="5.5" stroke-linejoin="miter" stroke-miterlimit="10"/>
<polygon points="1028.15,503 1037.68,519.5 1018.62,519.5" fill="none" stroke="#00ffff" stroke-width="5.5" stroke-linejoin="miter" stroke-miterlimit="10"/>
<polygon points="1119.5,511 1129.03,527.5 1109.97,527.5" fill="none" stroke="#00ffff" stroke-width="5.5" stroke-linejoin="miter" stroke-miterlimit="10"/>
</g>
<rect x="768" y="103" width="324.5" height="296.7" fill="#fff" stroke="#262626" stroke-width="1.2" shape-rendering="crispEdges"/>
<g fill="none" shape-rendering="crispEdges">
<line x1="775.9" y1="130.5" x2="863.2" y2="130.5" stroke="#0000ff" stroke-width="5.8" stroke-dasharray="18.2 15.3"/>
<circle cx="817.6" cy="129.6" r="8.1" fill="none" stroke="#0000ff" stroke-width="5.7" shape-rendering="geometricPrecision"/>
<line x1="774" y1="178.7" x2="863.2" y2="178.7" stroke="#0000ff" stroke-width="5.8"/>
<circle cx="817.6" cy="177.8" r="8.1" fill="none" stroke="#0000ff" stroke-width="5.7" shape-rendering="geometricPrecision"/>
<line x1="775.9" y1="227" x2="863.2" y2="227" stroke="#ff00ff" stroke-width="5.8" stroke-dasharray="18.2 15.3"/>
<circle cx="818.5" cy="227" r="8.9" fill="#ff00ff" shape-rendering="geometricPrecision"/>
<line x1="774" y1="275.2" x2="863.2" y2="275.2" stroke="#ff00ff" stroke-width="5.8"/>
<circle cx="818.5" cy="275.2" r="8.9" fill="#ff00ff" shape-rendering="geometricPrecision"/>
<line x1="775.9" y1="323.5" x2="863.2" y2="323.5" stroke="#00ffff" stroke-width="5.8" stroke-dasharray="18.2 15.3"/>
<polygon points="818.5,312.5 828.03,329 808.97,329" fill="none" stroke="#00ffff" stroke-width="5.5" stroke-linejoin="miter" stroke-miterlimit="10"/>
<line x1="774" y1="371.7" x2="863.2" y2="371.7" stroke="#00ffff" stroke-width="5.8"/>
<polygon points="818.5,360.7 828.03,377.2 808.97,377.2" fill="none" stroke="#00ffff" stroke-width="5.5" stroke-linejoin="miter" stroke-miterlimit="10"/>
</g>
<text transform="translate(866.23 145) scale(1.0039 1.04)" font-family="'Liberation Sans', Arial, Helvetica, sans-serif" font-size="36" fill="#000" stroke="#000" stroke-width="0.9" stroke-linejoin="round">AF (SNR=20)</text>
<text transform="translate(865.49 193.2) scale(1.0039 1.04)" font-family="'Liberation Sans', Arial, Helvetica, sans-serif" font-size="36" fill="#000" stroke="#000" stroke-width="0.9" stroke-linejoin="round">TV (SNR=20)</text>
<clipPath id="k9"><path clip-rule="evenodd" d="M-600 -100H600V60H-600ZM165.32 -4.35H173.62V3.45H165.32ZM177.72 -4.35H185.33V3.45H177.72Z"/></clipPath><text transform="translate(866.23 241.5) scale(1.0039 1.04)" font-family="'Liberation Sans', Arial, Helvetica, sans-serif" font-size="36" fill="#000" stroke="#000" stroke-width="0.9" stroke-linejoin="round" clip-path="url(#k9)">AF (SNR=10)</text>
<clipPath id="k10"><path clip-rule="evenodd" d="M-600 -100H600V60H-600ZM165.32 -4.35H173.62V3.45H165.32ZM177.72 -4.35H185.33V3.45H177.72Z"/></clipPath><text transform="translate(865.49 289.7) scale(1.0039 1.04)" font-family="'Liberation Sans', Arial, Helvetica, sans-serif" font-size="36" fill="#000" stroke="#000" stroke-width="0.9" stroke-linejoin="round" clip-path="url(#k10)">TV (SNR=10)</text>
<text transform="translate(866.23 338) scale(1.0039 1.04)" font-family="'Liberation Sans', Arial, Helvetica, sans-serif" font-size="36" fill="#000" stroke="#000" stroke-width="0.9" stroke-linejoin="round">AF (SNR=0)</text>
<text transform="translate(865.49 386.2) scale(1.0039 1.04)" font-family="'Liberation Sans', Arial, Helvetica, sans-serif" font-size="36" fill="#000" stroke="#000" stroke-width="0.9" stroke-linejoin="round">TV (SNR=0)</text>
<text transform="translate(586.08 57.4) scale(1.0056 1.04)" font-family="'Liberation Sans', Arial, Helvetica, sans-serif" font-size="44.2" fill="#000" stroke="#000" stroke-width="0.9" stroke-linejoin="round">Scene2</text>
<text transform="translate(526.11 892) scale(0.9985 1.04)" font-family="'Liberation Sans', Arial, Helvetica, sans-serif" font-size="44.2" fill="#262626" stroke="#262626" stroke-width="0.9" stroke-linejoin="round">Window width</text>
<text transform="translate(205 832) scale(1.0 1.04)" font-family="'Liberation Sans', Arial, Helvetica, sans-serif" font-size="41.3" text-anchor="middle" fill="#262626" stroke="#262626" stroke-width="0.9" stroke-linejoin="round">0</text>
<clipPath id="k11"><path clip-rule="evenodd" d="M-600 -100H600V60H-600ZM-22.28 -4.75H-13.05V3.45H-22.28ZM-8.48 -4.75H0.02V3.45H-8.48Z"/></clipPath><text transform="translate(387.7 832) scale(1.0 1.04)" font-family="'Liberation Sans', Arial, Helvetica, sans-serif" font-size="41.3" text-anchor="middle" fill="#262626" stroke="#262626" stroke-width="0.9" stroke-linejoin="round" clip-path="url(#k11)">10</text>
<text transform="translate(570.4 832) scale(1.0 1.04)" font-family="'Liberation Sans', Arial, Helvetica, sans-serif" font-size="41.3" text-anchor="middle" fill="#262626" stroke="#262626" stroke-width="0.9" stroke-linejoin="round">20</text>
<text transform="translate(753.1 832) scale(1.0 1.04)" font-family="'Liberation Sans', Arial, Helvetica, sans-serif" font-size="41.3" text-anchor="middle" fill="#262626" stroke="#262626" stroke-width="0.9" stroke-linejoin="round">30</text>
<text transform="translate(935.8 832) scale(1.0 1.04)" font-family="'Liberation Sans', Arial, Helvetica, sans-serif" font-size="41.3" text-anchor="middle" fill="#262626" stroke="#262626" stroke-width="0.9" stroke-linejoin="round">40</text>
<text transform="translate(1118.5 832) scale(1.0 1.04)" font-family="'Liberation Sans', Arial, Helvetica, sans-serif" font-size="41.3" text-anchor="middle" fill="#262626" stroke="#262626" stroke-width="0.9" stroke-linejoin="round">50</text>
<clipPath id="k12"><path clip-rule="evenodd" d="M-600 -100H600V60H-600ZM-45.25 -4.75H-36.02V3.45H-45.25ZM-31.45 -4.75H-22.95V3.45H-31.45Z"/></clipPath><text transform="translate(161.91 98) scale(1.0 1.04)" font-family="'Liberation Sans', Arial, Helvetica, sans-serif" font-size="41.3" text-anchor="end" fill="#262626" stroke="#262626" stroke-width="0.9" stroke-linejoin="round" clip-path="url(#k12)">10</text>
<clipPath id="k13"><path clip-rule="evenodd" d="M-600 -100H600V60H-600ZM10.84 -4.09H18.53V3.45H10.84ZM22.32 -4.09H29.35V3.45H22.32Z"/></clipPath><text transform="translate(162.77 78.8) scale(1.0 1.04)" font-family="'Liberation Sans', Arial, Helvetica, sans-serif" font-size="32.5" text-anchor="start" fill="#262626" stroke="#262626" stroke-width="0.9" stroke-linejoin="round" clip-path="url(#k13)">-1</text>
<clipPath id="k14"><path clip-rule="evenodd" d="M-600 -100H600V60H-600ZM-45.25 -4.75H-36.02V3.45H-45.25ZM-31.45 -4.75H-22.95V3.45H-31.45Z"/></clipPath><text transform="translate(161.91 331) scale(1.0 1.04)" font-family="'Liberation Sans', Arial, Helvetica, sans-serif" font-size="41.3" text-anchor="end" fill="#262626" stroke="#262626" stroke-width="0.9" stroke-linejoin="round" clip-path="url(#k14)">10</text>
<text transform="translate(162.77 311.8) scale(1.0 1.04)" font-family="'Liberation Sans', Arial, Helvetica, sans-serif" font-size="32.5" text-anchor="start" fill="#262626" stroke="#262626" stroke-width="0.9" stroke-linejoin="round">-2</text>
<clipPath id="k15"><path clip-rule="evenodd" d="M-600 -100H600V60H-600ZM-45.25 -4.75H-36.02V3.45H-45.25ZM-31.45 -4.75H-22.95V3.45H-31.45Z"/></clipPath><text transform="translate(161.91 564) scale(1.0 1.04)" font-family="'Liberation Sans', Arial, Helvetica, sans-serif" font-size="41.3" text-anchor="end" fill="#262626" stroke="#262626" stroke-width="0.9" stroke-linejoin="round" clip-path="url(#k15)">10</text>
<text transform="translate(162.77 544.8) scale(1.0 1.04)" font-family="'Liberation Sans', Arial, Helvetica, sans-serif" font-size="32.5" text-anchor="start" fill="#262626" stroke="#262626" stroke-width="0.9" stroke-linejoin="round">-3</text>
<clipPath id="k16"><path clip-rule="evenodd" d="M-600 -100H600V60H-600ZM-45.25 -4.75H-36.02V3.45H-45.25ZM-31.45 -4.75H-22.95V3.45H-31.45Z"/></clipPath><text transform="translate(161.91 797) scale(1.0 1.04)" font-family="'Liberation Sans', Arial, Helvetica, sans-serif" font-size="41.3" text-anchor="end" fill="#262626" stroke="#262626" stroke-width="0.9" stroke-linejoin="round" clip-path="url(#k16)">10</text>
<text transform="translate(162.77 777.8) scale(1.0 1.04)" font-family="'Liberation Sans', Arial, Helvetica, sans-serif" font-size="32.5" text-anchor="start" fill="#262626" stroke="#262626" stroke-width="0.9" stroke-linejoin="round">-4</text>
<text transform="translate(94.69 0) rotate(-90) translate(-667.95 0) scale(1.1457 1.0)" font-family="'Liberation Serif', 'Times New Roman', Times, serif" font-size="45" fill="#262626" stroke="#262626" stroke-width="0.8" stroke-linejoin="round">Std</text>
<text transform="translate(94.69 0) rotate(-90) translate(-585.39 0) scale(0.9868 1.0)" font-family="'Liberation Serif', 'Times New Roman', Times, serif" font-size="45" fill="#262626" stroke="#262626" stroke-width="0.8" stroke-linejoin="round">of</text>
<text transform="translate(94.69 0) rotate(-90) translate(-536.16 0) scale(1.0659 1.0)" font-family="'Liberation Serif', 'Times New Roman', Times, serif" font-size="45" fill="#262626" stroke="#262626" stroke-width="0.8" stroke-linejoin="round">reciprocal</text>
<text transform="translate(94.69 0) rotate(-90) translate(-329.3 0) scale(0.9540 1.0)" font-family="'Liberation Serif', 'Times New Roman', Times, serif" font-size="45" fill="#262626" stroke="#262626" stroke-width="0.8" stroke-linejoin="round">bias</text>
<text transform="translate(94.69 0) rotate(-90) translate(-242.6 0) scale(1.1221 1.0)" font-family="'Liberation Serif', 'Times New Roman', Times, serif" font-size="45" font-style="italic" fill="#262626" stroke="#262626" stroke-width="0.8" stroke-linejoin="round">σ</text>
<text transform="translate(94.69 0) rotate(-90) translate(-216.89 6) scale(1.0972 1.0)" font-family="'Liberation Serif', 'Times New Roman', Times, serif" font-size="29" font-style="italic" fill="#262626" stroke="#262626" stroke-width="0.7" stroke-linejoin="round">re</text>
</g>
<g font-family="'Liberation Serif', 'Times New Roman', Times, serif" font-size="66" fill="#000" stroke="#000" stroke-width="0.35" stroke-linejoin="round">
<text x="604.6 624.6 651.2" y="1049">(c)</text>
<text x="1799.6 1822.2 1857.2" y="1048.5">(d)</text>
</g>
</svg>
</body>
</html>
